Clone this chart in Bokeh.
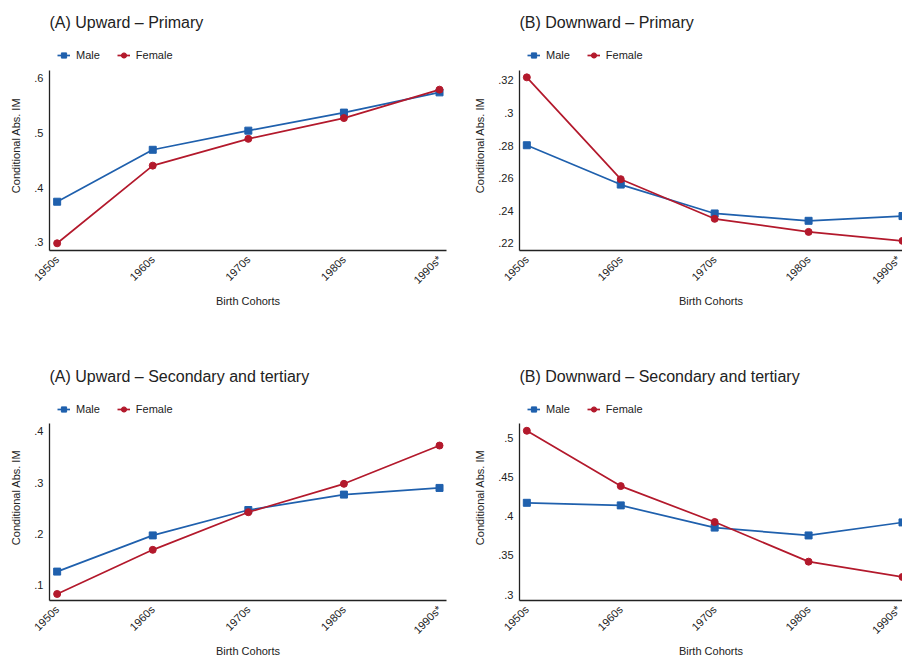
from bokeh.plotting import figure
from bokeh.layouts import row, column
from bokeh.models import FixedTicker, Legend, LegendItem, Range1d
from bokeh.embed import file_html
from bokeh.resources import INLINE
import math

# ---- data ----
cohorts = ["1950s", "1960s", "1970s", "1980s", "1990s*"]
cohort_pos = [0, 1, 2, 3, 4]

up_pri_male = [0.374, 0.469, 0.504, 0.537, 0.574]
up_pri_female = [0.298, 0.440, 0.489, 0.527, 0.579]
down_pri_male = [0.2802, 0.2561, 0.2384, 0.2339, 0.2368]
down_pri_female = [0.3218, 0.2594, 0.2351, 0.2271, 0.2216]
up_sec_male = [0.127, 0.1975, 0.247, 0.277, 0.290]
up_sec_female = [0.0834, 0.1694, 0.2427, 0.298, 0.3726]
down_sec_male = [0.417, 0.4137, 0.3854, 0.3754, 0.392]
down_sec_female = [0.5088, 0.4383, 0.3925, 0.342, 0.3225]

up_pri_ticks = [0.3, 0.4, 0.5, 0.6]
up_pri_labels = [".3", ".4", ".5", ".6"]
down_pri_ticks = [0.22, 0.24, 0.26, 0.28, 0.3, 0.32]
down_pri_labels = [".22", ".24", ".26", ".28", ".3", ".32"]
up_sec_ticks = [0.1, 0.2, 0.3, 0.4]
up_sec_labels = [".1", ".2", ".3", ".4"]
down_sec_ticks = [0.3, 0.35, 0.4, 0.45, 0.5]
down_sec_labels = [".3", ".35", ".4", ".45", ".5"]

titles = ["(A) Upward \u2013 Primary", "(B) Downward \u2013 Primary",
          "(A) Upward \u2013 Secondary and tertiary", "(B) Downward \u2013 Secondary and tertiary"]

BLUE = "#1f60ad"
RED = "#b3192c"
TXT = "#222222"
FONT = "Liberation Sans"
AXIS_H = 180   # pixel height of the y axis line
EXTRA = 30     # pixels of frame above the axis, holding the legend


def panel(title, ticks, tick_labels, ybounds, male, female, xr, width, height, bl, br, bt, bb):
    lo, hi = ybounds
    top = hi + (hi - lo) / AXIS_H * EXTRA
    p = figure(width=width, height=height, output_backend="svg", toolbar_location=None,
               x_range=Range1d(*xr), y_range=Range1d(lo, top),
               min_border_left=bl, min_border_right=br, min_border_top=bt, min_border_bottom=bb)
    p.outline_line_color = None
    p.xgrid.visible = False
    p.ygrid.visible = False
    p.background_fill_color = "white"

    lm = p.line(cohort_pos, male, line_color=BLUE, line_width=1.7)
    sm = p.scatter(cohort_pos, male, marker="square", size=7, color=BLUE)
    lf = p.line(cohort_pos, female, line_color=RED, line_width=1.7)
    sf = p.scatter(cohort_pos, female, marker="circle", size=7, color=RED)

    for ax in (p.xaxis[0], p.yaxis[0]):
        ax.major_tick_line_color = None
        ax.minor_tick_line_color = None
        ax.major_tick_out = 0
        ax.major_tick_in = 0
        ax.axis_line_color = TXT
        ax.axis_line_width = 1.3
        ax.major_label_text_font = FONT
        ax.major_label_text_font_size = "11px"
        ax.major_label_text_color = TXT
        ax.axis_label_text_font = FONT
        ax.axis_label_text_font_size = "11px"
        ax.axis_label_text_font_style = "normal"
        ax.axis_label_text_color = TXT

    p.xaxis.ticker = FixedTicker(ticks=cohort_pos)
    p.xaxis.major_label_overrides = {k: v for k, v in zip(cohort_pos, cohorts)}
    p.xaxis.major_label_orientation = math.pi / 4
    p.xaxis.major_label_standoff = 7
    p.xaxis.axis_label = "Birth Cohorts"
    p.xaxis.axis_label_standoff = 2

    p.yaxis.ticker = FixedTicker(ticks=ticks)
    p.yaxis.major_label_overrides = {k: v for k, v in zip(ticks, tick_labels)}
    p.yaxis.major_label_standoff = 6
    p.yaxis.axis_label = "Conditional Abs. IM"
    p.yaxis.axis_label_standoff = 9
    p.yaxis.bounds = (lo, hi)

    legend = Legend(items=[LegendItem(label="Male", renderers=[lm, sm]),
                           LegendItem(label="Female", renderers=[lf, sf])],
                    orientation="horizontal", location="top_left",
                    margin=8, padding=8, spacing=17,
                    glyph_width=13, glyph_height=14, label_height=14,
                    label_standoff=6, border_line_color=None,
                    background_fill_alpha=0,
                    label_text_font=FONT, label_text_font_size="11px",
                    label_text_color=TXT)
    p.add_layout(legend, "center")

    p.title.text = title
    p.title.text_font = FONT
    p.title.text_font_size = "16px"
    p.title.text_font_style = "normal"
    p.title.text_color = TXT
    p.title.align = "left"
    p.title.offset = 0
    p.title.standoff = 20
    return p


p1 = panel(titles[0], up_pri_ticks, up_pri_labels, (0.2848, 0.614), up_pri_male, up_pri_female,
           (-0.08, 4.073), 450, 340, 49, 4, 40, 90)
p2 = panel(titles[1], down_pri_ticks, down_pri_labels, (0.2157, 0.326), down_pri_male, down_pri_female,
           (-0.078, 4.0), 452, 340, 69, 0, 40, 90)
p3 = panel(titles[2], up_sec_ticks, up_sec_labels, (0.0707, 0.4147), up_sec_male, up_sec_female,
           (-0.08, 4.073), 450, 320, 49, 4, 54, 57)
p4 = panel(titles[3], down_sec_ticks, down_sec_labels, (0.2925, 0.5175), down_sec_male, down_sec_female,
           (-0.078, 4.0), 452, 320, 69, 0, 54, 57)

layout = column(row(p1, p2, spacing=0), row(p3, p4, spacing=0), spacing=0)

open("out.html", "w").write(file_html(layout, INLINE))
